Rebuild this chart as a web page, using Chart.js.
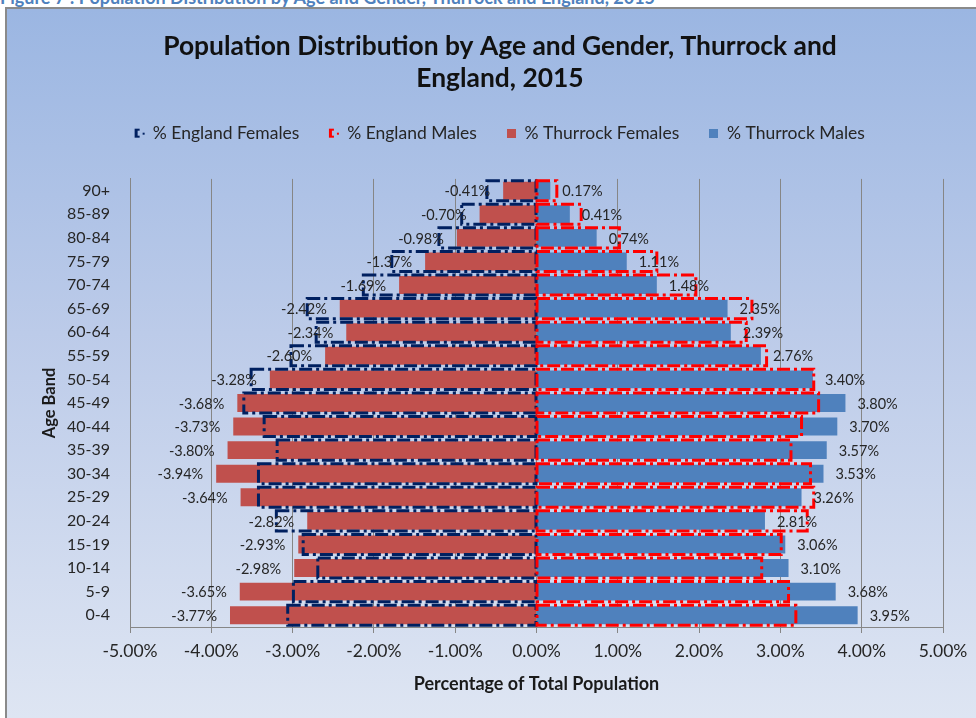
<!DOCTYPE html>
<html>
<head>
<meta charset="utf-8">
<script src="https://cdn.jsdelivr.net/npm/chart.js@4/dist/chart.umd.min.js"></script>
<style>
    html, body { margin: 0; padding: 0; width: 976px; height: 718px; overflow: hidden; background: #fff; }
    #caption {
        position: absolute; left: 0; top: -14px; white-space: nowrap;
        font: bold 18px Lato, sans-serif; color: #4f81bd;
    }
    #frame {
        position: absolute; left: 5px; top: 7px; width: 990px; height: 720px;
        border-left: 2px solid #8a8a8a; border-top: 2px solid #8a8a8a;
        background: linear-gradient(180deg, #9bb6e2 0%, #bccbe9 45%, #dfe6f3 100%);
    }
    #wrap { position: absolute; left: 7px; top: 9px; width: 986px; height: 709px; }
</style>
</head>
<body>
<div id="caption">Figure 7 : Population Distribution by Age and Gender, Thurrock and England, 2015</div>
<div id="frame"></div>
<div id="wrap"><canvas id="chart"></canvas></div>
<script>
// age bands, youngest first (axis is reversed so 0-4 sits at the bottom)
const ageBands = ['0-4', '5-9', '10-14', '15-19', '20-24', '25-29', '30-34', '35-39', '40-44',
    '45-49', '50-54', '55-59', '60-64', '65-69', '70-74', '75-79', '80-84', '85-89', '90+'];

const englandFemales = [-3.06, -2.99, -2.69, -2.87, -3.20, -3.42, -3.42, -3.19, -3.35,
    -3.60, -3.51, -3.02, -2.71, -2.82, -2.13, -1.78, -1.20, -0.92, -0.61];
const englandMales = [3.19, 3.10, 2.77, 3.01, 3.33, 3.41, 3.37, 3.13, 3.26,
    3.47, 3.41, 2.83, 2.58, 2.65, 1.96, 1.48, 1.02, 0.55, 0.25];
const thurrockFemales = [-3.77, -3.65, -2.98, -2.93, -2.82, -3.64, -3.94, -3.80, -3.73,
    -3.68, -3.28, -2.60, -2.34, -2.42, -1.69, -1.37, -0.98, -0.70, -0.41];
const thurrockMales = [3.95, 3.68, 3.10, 3.06, 2.81, 3.26, 3.53, 3.57, 3.70,
    3.80, 3.40, 2.76, 2.39, 2.35, 1.48, 1.11, 0.74, 0.41, 0.17];

const xTicks = [-5, -4, -3, -2, -1, 0, 1, 2, 3, 4, 5];

const NAVY = '#002060';
const RED = '#ff0000';
const FEMALE = '#c0504d';
const MALE = '#4f81bd';
const FONT = 'Lato, "Open Sans", sans-serif';

// small legend markers like the Excel ones
function outlineMarker(color) {
    const c = document.createElement('canvas');
    c.width = 12; c.height = 11;
    const g = c.getContext('2d');
    g.fillStyle = color;
    g.fillRect(1, 1, 3, 9);
    g.fillRect(1, 1, 5, 2);
    g.fillRect(1, 8, 5, 2);
    g.fillRect(9, 5, 2, 2);
    return c;
}
function squareMarker(color) {
    const c = document.createElement('canvas');
    c.width = 9; c.height = 9;
    const g = c.getContext('2d');
    g.fillStyle = color;
    g.fillRect(0, 0, 9, 9);
    return c;
}

// England series are drawn as dash-dot outlines on top of the Thurrock bars
const dashedOutlines = {
    id: 'dashedOutlines',
    afterDatasetsDraw(chart) {
        const ctx = chart.ctx;
        chart.data.datasets.forEach((ds, i) => {
            if (!ds.outline) return;
            const meta = chart.getDatasetMeta(i);
            ctx.save();
            ctx.strokeStyle = ds.outline;
            ctx.lineWidth = 3;
            ctx.setLineDash([13, 4, 3, 4]);
            meta.data.forEach(bar => {
                const left = Math.min(bar.x, bar.base);
                const w = Math.abs(bar.x - bar.base);
                ctx.strokeRect(left, bar.y - bar.height / 2, w, bar.height);
            });
            ctx.restore();
        });
        // value labels for Thurrock, outside the bar end
        chart.data.datasets.forEach((ds, i) => {
            if (ds.outline) return;
            const meta = chart.getDatasetMeta(i);
            ctx.save();
            ctx.font = '14.5px ' + FONT;
            ctx.fillStyle = '#262626';
            ctx.textBaseline = 'middle';
            meta.data.forEach((bar, j) => {
                const v = ds.data[j];
                if (v < 0) {
                    ctx.textAlign = 'right';
                    ctx.fillText(v.toFixed(2) + '%', bar.x - 13, bar.y + 1);
                } else {
                    ctx.textAlign = 'left';
                    ctx.fillText(v.toFixed(2) + '%', bar.x + 12, bar.y + 1);
                }
            });
            ctx.restore();
        });
    }
};

// extra room under the legend, and centre title + legend on the whole frame
// (the frame runs past the right edge of the window)
const headerLayout = {
    id: 'headerLayout',
    beforeInit(chart) {
        const fit = chart.legend.fit;
        chart.legend.fit = function () {
            fit.bind(chart.legend)();
            this.height += 27;
        };
    },
    afterLayout(chart) {
        [chart.titleBlock, chart.legend].forEach(box => {
            box.left += 25;
            box.right += 25;
        });
    }
};

Chart.defaults.font.family = FONT;
Chart.defaults.color = '#262626';

new Chart(document.getElementById('chart'), {
    type: 'bar',
    data: {
        labels: ageBands,
        datasets: [
            { label: '% England Females', data: englandFemales, outline: NAVY, backgroundColor: 'rgba(0,0,0,0)',
              borderWidth: 0, barPercentage: 0.85, legendMarker: outlineMarker(NAVY) },
            { label: '% England Males', data: englandMales, outline: RED, backgroundColor: 'rgba(0,0,0,0)',
              borderWidth: 0, barPercentage: 0.85, legendMarker: outlineMarker(RED) },
            { label: '% Thurrock Females', data: thurrockFemales, backgroundColor: FEMALE,
              barPercentage: 0.76, legendMarker: squareMarker(FEMALE) },
            { label: '% Thurrock Males', data: thurrockMales, backgroundColor: MALE,
              barPercentage: 0.76, legendMarker: squareMarker(MALE) }
        ]
    },
    options: {
        indexAxis: 'y',
        responsive: true,
        maintainAspectRatio: false,
        animation: false,
        layout: { padding: { left: 0, right: 50, top: 0, bottom: 0 } },
        datasets: { bar: { grouped: false, categoryPercentage: 1 } },
        scales: {
            x: {
                min: -5,
                max: 5,
                afterBuildTicks(scale) {
                    scale.ticks = xTicks.map(v => ({ value: v }));
                },
                afterFit(scale) { scale.height = 91; },
                ticks: {
                    font: { size: 17.5 },
                    color: '#262626',
                    padding: 8,
                    callback: v => v.toFixed(2) + '%'
                },
                grid: { color: '#868686', tickLength: 6, drawTicks: true },
                border: { color: '#868686' },
                title: {
                    display: true,
                    text: 'Percentage of Total Population',
                    font: { size: 18, weight: 'bold' },
                    color: '#1a1a1a',
                    padding: { top: 0, bottom: 23 }
                }
            },
            y: {
                reverse: true,
                afterFit(scale) { scale.width = 123; },
                ticks: { font: { size: 16 }, color: '#262626', padding: 20 },
                grid: { display: false, drawTicks: false },
                border: { display: true, color: '#868686' },
                title: {
                    display: true,
                    text: 'Age Band',
                    font: { size: 16.5, weight: 'bold' },
                    color: '#1a1a1a',
                    padding: { top: 33, bottom: 0 }
                }
            }
        },
        plugins: {
            title: {
                display: true,
                text: ['Population Distribution by Age and Gender, Thurrock and', 'England, 2015'],
                font: { size: 26.4, weight: 'bold', lineHeight: 1.22 },
                color: '#111',
                padding: { top: 21, bottom: 0 }
            },
            legend: {
                position: 'top',
                labels: {
                    usePointStyle: true,
                    boxWidth: 9,
                    boxHeight: 9,
                    padding: 30,
                    font: { size: 17.5 },
                    color: '#262626',
                    generateLabels(chart) {
                        return chart.data.datasets.map((ds, i) => ({
                            text: ds.label,
                            pointStyle: ds.legendMarker,
                            fillStyle: 'rgba(0,0,0,0)',
                            strokeStyle: 'rgba(0,0,0,0)',
                            lineWidth: 0,
                            fontColor: '#262626',
                            datasetIndex: i,
                            hidden: false
                        }));
                    }
                }
            },
            tooltip: { enabled: false }
        }
    },
    plugins: [dashedOutlines, headerLayout]
});
</script>
</body>
</html>
